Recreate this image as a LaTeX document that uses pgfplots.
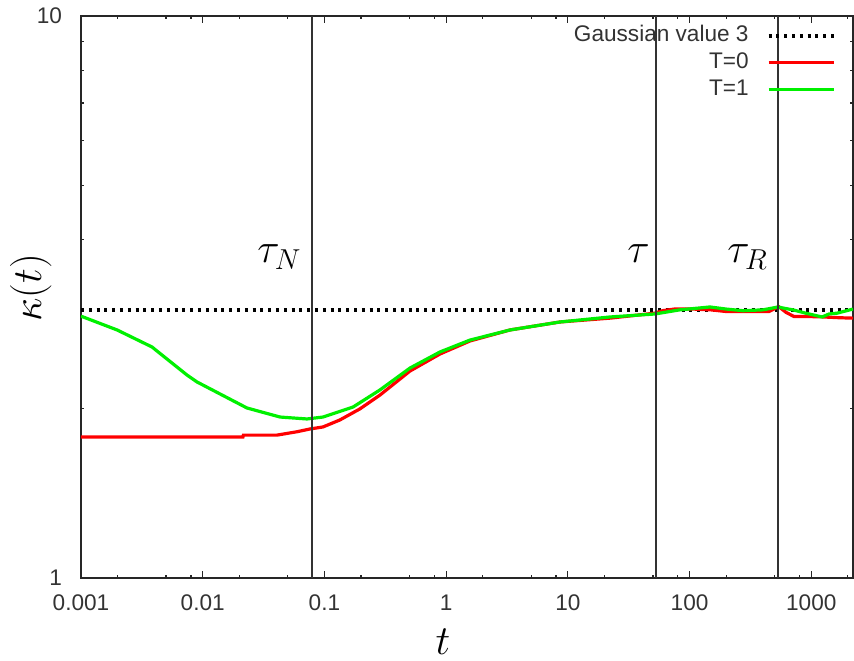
\documentclass[border=0pt]{standalone}
\usepackage{fontspec}
\setmainfont{Liberation Sans}
\usepackage{pgfplots}
\pgfplotsset{compat=1.18}
\definecolor{gred}{RGB}{255,0,0}
\definecolor{ggreen}{RGB}{0,240,0}
\begin{document}
\begin{tikzpicture}
\begin{axis}[
 scale only axis, width=386pt, height=281pt,
 xmode=log, ymode=log, xmin=0.001, xmax=2203, ymin=1, ymax=10,
 xtick={0.001,0.01,0.1,1,10,100,1000},
 xticklabels={0.001,0.01,0.1,1,10,100,1000},
 minor xtick={0.002,0.005,0.008,0.02,0.05,0.08,0.2,0.5,0.8,2,5,8,20,50,80,200,500,800,2000},
 ytick={1,10}, yticklabels={1,10},
 minor ytick={2,3,4,5,6,7,8,9},
 major tick length=3.5pt, minor tick length=1.75pt,
 tick style={black!85, line width=0.6pt},
 axis line style={black!85, line width=0.8pt},
 tick label style={font=\fontsize{11.3}{13}\selectfont, text=black!80},
 xticklabel style={yshift=-5pt},
 yticklabel style={xshift=-6pt},
 xlabel={$t$}, ylabel={$\kappa(t)$},
 label style={font=\fontsize{20}{24}\selectfont},
 xlabel style={at={(axis description cs:0.469,-0.136)}, anchor=base},
 ylabel style={at={(axis description cs:-0.065,0.516)}, anchor=center},
 legend style={at={(rel axis cs:1,1)}, anchor=north east, xshift=-8.5pt, yshift=-4.4pt,
   draw=none, fill=none, inner sep=0pt, font=\fontsize{11.3}{13}\selectfont, text=black!80,
   row sep=3pt, column sep=9pt, nodes={inner sep=0pt, text height=8.2pt, text depth=2.3pt}},
 legend cell align=right, legend plot pos=right,
 legend image code/.code={\draw[#1] (0pt,0pt) -- (32.5pt,0pt);},
]
\addplot[black, line width=2pt, dash pattern=on 1.5pt off 2.4pt] coordinates {(0.001,3) (2203,3)};
\addlegendentry{Gaussian value 3}
\addplot[gred, line width=1.6pt] coordinates {
(0.001,1.782) (0.0214,1.782) (0.0216,1.796) (0.0407,1.796) (0.0596,1.821) (0.0762,1.842)
(0.0973,1.857) (0.134,1.911) (0.196,2.00) (0.286,2.116) (0.505,2.335) (0.891,2.504)
(1.571,2.641) (3.35,2.763) (8.63,2.855) (22.2,2.90) (52,2.96) (60,2.99) (75,3.01)
(107,3.01) (150,3.0) (200,2.98) (300,2.98) (450,2.98) (540,3.04) (620,2.97) (720,2.92)
(900,2.92) (1230,2.915) (1700,2.905) (2203,2.90)};
\addlegendentry{T=0}
\addplot[ggreen, line width=1.6pt] coordinates {
(0.001,2.924) (0.00198,2.763) (0.00383,2.577) (0.00743,2.297) (0.00897,2.233) (0.0231,2.007)
(0.0432,1.934) (0.0719,1.919) (0.0973,1.934) (0.172,2.015) (0.286,2.161) (0.505,2.364)
(0.891,2.525) (1.571,2.651) (3.35,2.763) (8.63,2.855) (22.2,2.914) (52.1,2.95) (83,3.0)
(147,3.036) (200,3.01) (275,2.99) (400,3.0) (534,3.036) (600,3.02) (708,3.0) (900,2.96)
(1227,2.914) (1400,2.95) (1631,2.96) (2203,3.01)};
\addlegendentry{T=1}
\addplot[black!80, line width=0.8pt, forget plot] coordinates {(0.0794,1) (0.0794,10)};
\addplot[black!80, line width=0.8pt, forget plot] coordinates {(53,1) (53,10)};
\addplot[black!80, line width=0.8pt, forget plot] coordinates {(533,1) (533,10)};
\node[anchor=base west, font=\fontsize{20}{24}\selectfont, inner sep=0pt] at (axis cs:0.0279,3.636) {$\tau_N$};
\node[anchor=base west, font=\fontsize{20}{24}\selectfont, inner sep=0pt] at (axis cs:30.6,3.636) {$\tau$};
\node[anchor=base west, font=\fontsize{20}{24}\selectfont, inner sep=0pt] at (axis cs:203,3.636) {$\tau_R$};
\end{axis}
\pgfresetboundingbox
\path ([xshift=-40.5pt,yshift=-41pt]current axis.south west) rectangle ([xshift=0.5pt,yshift=8pt]current axis.north east);
\end{tikzpicture}
\end{document}
